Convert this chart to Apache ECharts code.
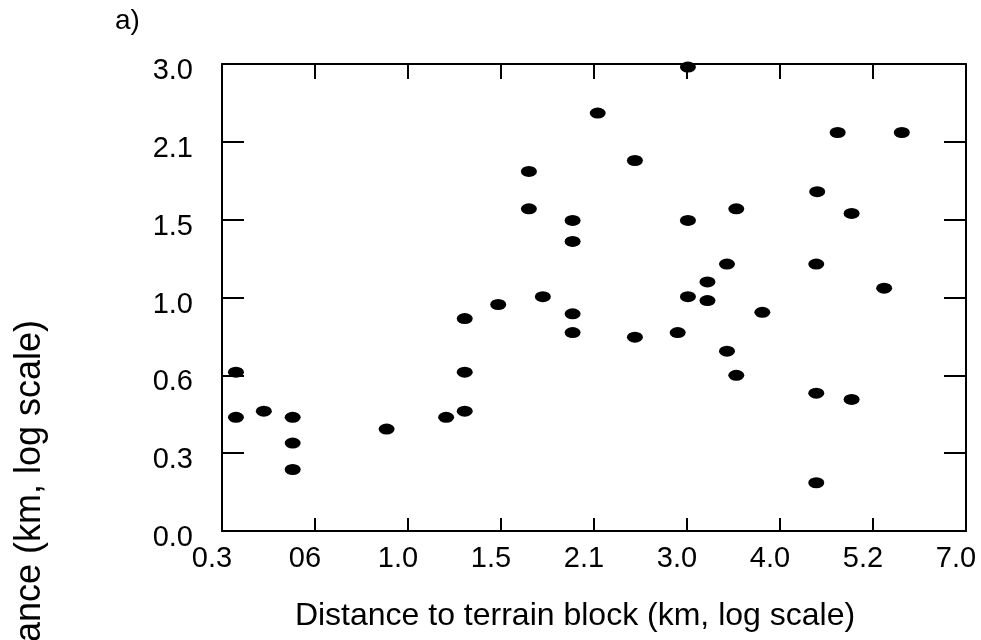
<!DOCTYPE html>
<html>
<head>
<meta charset="utf-8">
<script src="https://cdn.jsdelivr.net/npm/echarts@6/dist/echarts.min.js"></script>
<style>html,body{margin:0;padding:0;background:#fff}#c{width:981px;height:640px}</style>
</head>
<body>
<div id="c"></div>
<script>
// Tick labels (positions are evenly spaced on the published log-scale axes)
const xTickLabels = ['0.3', '06', '1.0', '1.5', '2.1', '3.0', '4.0', '5.2', '7.0'];
const yTickLabels = ['0.0', '0.3', '0.6', '1.0', '1.5', '2.1', '3.0'];

// Point positions, in axis tick units (0 = first tick label)
const xPos = [0.15, 0.15, 0.45, 0.76, 0.76, 0.76, 1.77, 2.41, 2.61, 2.61, 2.61, 2.97,
  3.30, 3.30, 3.45, 3.77, 3.77, 3.77, 3.77, 4.04, 4.44, 4.44, 4.90, 5.01, 5.01, 5.01,
  5.22, 5.22, 5.43, 5.43, 5.53, 5.53, 5.81, 6.39, 6.39, 6.39, 6.40, 6.62, 6.77, 6.77,
  7.12, 7.31];
const yPos = [2.04, 1.46, 1.54, 1.46, 1.13, 0.79, 1.31, 1.46, 1.54, 2.04, 2.73, 2.91,
  4.62, 4.14, 3.01, 3.99, 3.72, 2.79, 2.55, 5.37, 4.76, 2.49, 2.55, 5.96, 3.99, 3.01,
  3.20, 2.96, 3.43, 2.31, 4.14, 2.00, 2.81, 3.43, 1.77, 0.62, 4.36, 5.12, 4.08, 1.69,
  3.12, 5.12];

const FONT = '"Liberation Sans", Arial, Helvetica, sans-serif';
const chart = echarts.init(document.getElementById('c'));
const lineStyle = { color: '#000', width: 2 };

chart.setOption({
  animation: false,
  backgroundColor: '#fff',
  grid: { left: 222, right: 15, top: 64, bottom: 109, containLabel: false },
  xAxis: [{
    type: 'value', min: 0, max: xTickLabels.length - 1, interval: 1,
    axisLine: { onZero: false, lineStyle },
    axisTick: { inside: true, length: 13, lineStyle },
    splitLine: { show: false },
    axisLabel: {
      margin: 13, color: '#000', fontFamily: FONT, fontSize: 29,
      padding: [0, 20, 0, 0],
      formatter: v => xTickLabels[Math.round(v)]
    }
  }, {
    type: 'value', position: 'top', min: 0, max: xTickLabels.length - 1, interval: 1,
    axisLine: { onZero: false, lineStyle },
    axisTick: { inside: true, length: 15, lineStyle },
    splitLine: { show: false },
    axisLabel: { show: false }
  }],
  yAxis: [{
    type: 'value', min: 0, max: yTickLabels.length - 1, interval: 1,
    axisLine: { onZero: false, lineStyle },
    axisTick: { inside: true, length: 22, lineStyle },
    splitLine: { show: false },
    axisLabel: {
      margin: 29, color: '#000', fontFamily: FONT, fontSize: 29,
      formatter: v => '{a|' + yTickLabels[Math.round(v)] + '}',
      rich: { a: { fontFamily: FONT, fontSize: 29, color: '#000', padding: [14, 0, 0, 0] } }
    }
  }, {
    type: 'value', position: 'right', min: 0, max: yTickLabels.length - 1, interval: 1,
    axisLine: { onZero: false, lineStyle },
    axisTick: { inside: true, length: 22, lineStyle },
    splitLine: { show: false },
    axisLabel: { show: false }
  }],
  graphic: [
    { type: 'text', x: 115, y: 7, style: { text: 'a)', fontSize: 28, fontFamily: FONT, fill: '#000' } },
    { type: 'text', x: 575, y: 616, style: { text: 'Distance to terrain block (km, log scale)', fontSize: 32, fontFamily: FONT, fill: '#000', align: 'center', verticalAlign: 'middle' } },
    { type: 'text', x: 30, y: 320, rotation: Math.PI / 2, style: { text: 'Distance (km, log scale)', fontSize: 36, fontFamily: FONT, fill: '#000', align: 'right', verticalAlign: 'middle' } }
  ],
  series: [{
    type: 'scatter',
    xAxisIndex: 0, yAxisIndex: 0,
    symbol: 'circle',
    symbolSize: [16, 11],
    itemStyle: { color: '#000', opacity: 1 },
    data: xPos.map((x, i) => [x, yPos[i]])
  }]
});
</script>
</body>
</html>
